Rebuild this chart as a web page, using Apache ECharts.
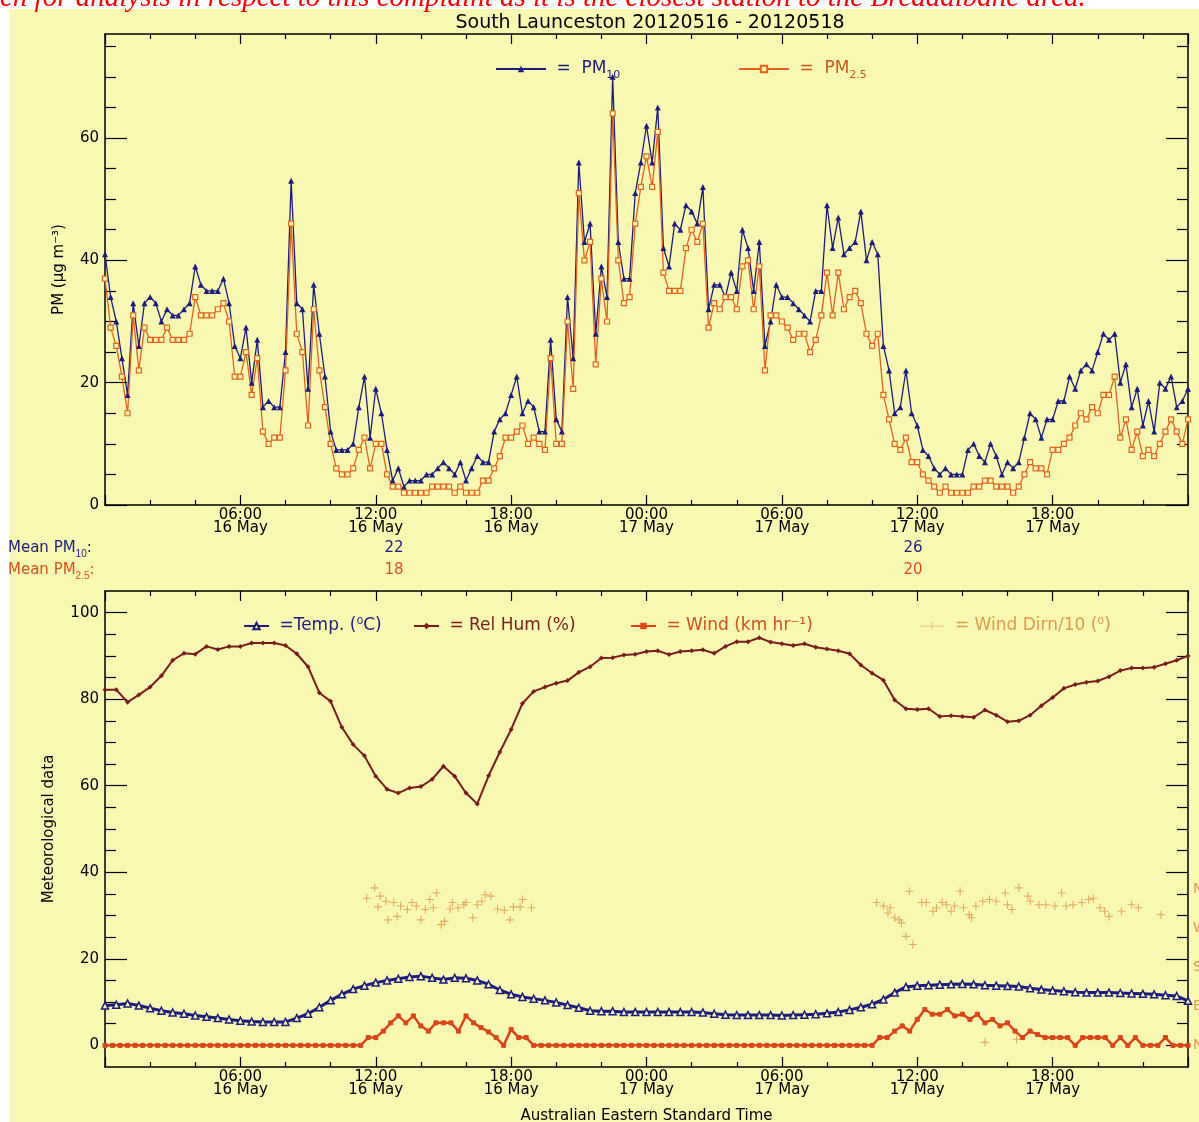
<!DOCTYPE html>
<html><head><meta charset="utf-8">
<script src="https://cdn.jsdelivr.net/npm/echarts@6/dist/echarts.min.js"></script>
<style>html,body{margin:0;padding:0;background:#fff;}#c{width:1199px;height:1122px;}</style>
</head><body><div id="c"></div>
<script>
// ---------- DATA (hours since 16 May 2012 00:00) ----------
const PM_STEP_H = 0.25;
const pm10 = [41,34,30,24,18,33,26,33,34,33,30,32,31,31,32,33,39,36,35,35,35,37,33,26,24,29,20,27,16,17,16,16,
25,53,33,32,19,36,28,21,12,9,9,9,10,16,21,11,19,15,9,4,6,3,4,4,4,5,5,6,7,6,5,7,4,6,8,7,7,12,14,15,18,21,15,17,16,12,12,27,
14,12,34,24,56,43,46,28,39,34,70,43,37,37,51,56,62,56,65,42,39,46,45,49,48,46,52,32,36,36,34,38,35,45,42,35,43,26,30,36,
34,34,33,32,31,30,35,35,49,42,47,41,42,43,48,40,43,41,26,22,15,16,22,15,13,9,8,6,5,6,5,5,5,9,10,8,7,10,8,5,7,6,7,11,
15,14,11,14,14,17,17,21,19,22,23,22,25,28,27,28,20,23,16,19,13,17,12,20,19,21,16,17,19];
const pm25 = [37,29,26,21,15,31,22,29,27,27,27,29,27,27,27,28,34,31,31,31,32,33,30,21,21,25,18,24,12,10,11,11,
22,46,28,25,13,32,22,16,10,6,5,5,6,9,11,6,10,10,5,3,3,2,2,2,2,2,3,3,3,3,2,3,2,2,2,4,4,6,8,11,11,12,13,10,11,10,9,24,
10,10,30,19,51,40,43,23,37,30,64,40,33,34,46,52,57,52,61,38,35,35,35,42,45,43,46,29,33,32,34,34,32,39,40,32,39,22,31,31,
30,29,27,28,28,25,27,31,38,31,38,32,34,35,33,28,26,28,18,14,10,9,11,7,7,5,4,3,2,3,2,2,2,2,3,3,4,4,3,3,3,2,3,5,
7,6,6,5,9,9,10,11,13,15,14,16,15,18,18,21,11,14,9,12,8,9,8,10,12,14,12,10,14];
const MET_STEP_H = 0.5;
const temperature = [9.2,9.4,9.7,9.2,8.6,8.0,7.6,7.3,6.9,6.6,6.3,6.0,5.7,5.5,5.4,5.4,5.4,6.3,7.3,8.8,
10.4,11.8,13.0,13.8,14.5,15.0,15.4,15.8,16.0,15.6,15.2,15.6,15.5,15.0,14.1,12.8,11.8,11.2,10.8,10.4,
9.9,9.3,8.7,8.0,7.9,7.9,7.7,7.7,7.7,7.7,7.7,7.7,7.7,7.6,7.3,7.1,7.0,7.0,7.0,7.0,
6.9,7.0,7.1,7.2,7.4,7.7,8.2,8.8,9.5,10.6,12.2,13.5,13.8,13.9,14.0,14.1,14.2,14.1,13.9,13.8,
13.7,13.6,13.2,12.9,12.7,12.5,12.3,12.2,12.2,12.2,12.1,12.0,11.9,11.8,11.6,11.4,10.3];
const relHumidity = [82.2,82.2,79.3,81.0,82.8,85.4,89.0,90.6,90.4,92.2,91.5,92.2,92.2,93.0,93.0,93.0,92.4,90.5,87.5,81.5,
79.5,73.5,69.5,66.9,62.2,59.2,58.3,59.5,59.8,61.5,64.5,62.2,58.3,55.8,62.3,67.8,73.0,79.0,81.8,82.8,
83.7,84.3,86.2,87.5,89.5,89.6,90.2,90.4,91.0,91.2,90.3,91.0,91.2,91.4,90.6,92.2,93.3,93.3,94.2,93.2,
92.8,92.4,92.8,92.0,91.6,91.2,90.5,87.9,86.0,84.4,79.8,77.8,77.6,77.8,76.0,76.2,76.0,75.8,77.5,76.3,
74.8,75.0,76.3,78.5,80.4,82.5,83.4,83.9,84.2,85.2,86.6,87.2,87.2,87.4,88.2,89.0,90.0];
const WIND_STEP_H = 1 / 3;
const windSpeed = [0,0,0,0,0,0,0,0,0,0,0,0,0,0,0,0,0,0,0,0,0,0,0,0,0,0,0,0,0,0,0,0,0,0,0,
1.8,1.8,3.3,5.2,6.8,5.2,6.8,4.5,3.3,5.2,5.2,5.2,3.3,6.8,5.2,4.1,3.1,1.8,0,3.7,1.8,1.8,
0,0,0,0,0,0,0,0,0,0,0,0,0,0,0,0,0,0,0,0,0,0,0,0,0,0,0,0,0,0,0,0,0,0,0,0,0,0,0,0,0,0,0,0,0,0,
1.8,1.8,3.3,4.5,3.3,6.0,8.3,7.2,7.2,8.3,6.8,7.2,6.0,7.2,5.2,6.0,4.5,5.2,3.3,1.8,3.3,2.5,1.8,1.8,1.8,1.8,
0,1.8,1.8,1.8,1.8,0,1.8,0,1.8,0,0,0,1.8,0,0,0];
const windDirHours = [11.6,11.95,12.1,12.2,12.45,12.55,12.8,12.95,13.1,13.4,13.6,13.8,14.0,14.2,14.4,14.55,14.7,14.9,15.05,15.3,
15.4,15.65,15.9,16.0,16.3,16.5,16.7,16.85,17.1,17.4,17.7,17.95,18.1,18.4,18.5,18.9,
34.2,34.5,34.7,34.8,35.0,35.2,35.3,35.5,35.65,35.8,36.2,36.4,36.7,36.85,37.1,37.3,37.5,37.65,37.9,38.05,
38.3,38.4,38.6,38.9,39.0,39.2,39.5,39.9,40.0,40.2,40.4,40.5,40.9,41.0,41.4,41.7,42.1,42.4,42.6,42.9,
43.3,43.6,43.8,44.1,44.3,44.5,45.05,45.5,45.8,46.8];
const windDirTenths = [34,36.4,32,34.5,33.3,29,33,29.8,32.2,31.4,33,32.2,29,31.4,33.7,31.8,35.2,27.9,28.7,31.5,
33,31.8,32.5,33,29.5,32.5,33.3,34.8,34.5,31.5,31.2,29,32,32,33.7,31.8,
33,32.2,30.6,31.8,29.5,29,28.3,25.2,35.6,23.3,33,33,31,31.8,33,32.5,31,32.2,35.6,31.8,
30.2,29.5,32.2,33.3,0.7,33.7,33.3,35.2,32.5,31.4,1.4,36.4,34.5,33.3,32.5,32.5,32.2,35.2,32.2,32.5,
33,33.7,34,31.8,31,29.8,31,32.5,31.8,30.2];
const xTickHours = [6,12,18,24,30,36,42];
const xTickLabels = ['06:00\n16 May','12:00\n16 May','18:00\n16 May','00:00\n17 May','06:00\n17 May','12:00\n17 May','18:00\n17 May'];
const pmMajorTicks = [0,20,40,60];
const pmMinorTicks = [5,10,15,25,30,35,45,50,55,65,70,75];
const metMajorTicks = [0,20,40,60,80,100];
const metMinorTicks = [5,10,15,25,30,35,45,50,55,65,70,75,85,90,95];
const compassValues = [0,9,18,27,36];
const compassLabels = ['N','E','S','W','N'];
const meanPM10 = ['22','26'];
const meanPM25 = ['18','20'];

// ---------- STYLE ----------
const BG = '#f8f8b2';
const FONT = 'DejaVu Sans';
const NAVY = '#1c1c7c';
const ORANGE = '#e2641c';
const MAROON = '#7a1c1c';
const WINDC = '#d8461a';
const WDIRC = '#e09a50';

const toXY = (arr, step) => arr.map((v, i) => [i * step, v]);

function xAxisDef(grid, pos, showLabel, name) {
  return {
    type: 'value', gridIndex: grid, position: pos, min: 0, max: 48, interval: 6,
    axisLine: {show: true, onZero: false, lineStyle: {color: '#000', width: 1.5}},
    axisTick: {show: true, inside: true, length: 10, lineStyle: {color: '#000', width: 1.2}},
    minorTick: {show: true, splitNumber: 3, length: 5, lineStyle: {color: '#000', width: 1.2}},
    splitLine: {show: false},
    axisLabel: {show: showLabel, showMinLabel: false, showMaxLabel: false, margin: 4,
      fontFamily: FONT, fontSize: 15, color: '#000', lineHeight: 13,
      formatter: v => { const i = xTickHours.indexOf(v); return i >= 0 ? xTickLabels[i] : ''; }},
    name: name || '', nameLocation: 'middle', nameGap: 42,
    nameTextStyle: {fontFamily: FONT, fontSize: 15, color: '#000'}
  };
}
function yAxisDef(grid, pos, min, max, major, showLine, ticks, tickLen, label, name, gap) {
  return {
    type: 'value', gridIndex: grid, position: pos, min: min, max: max,
    axisLine: {show: showLine, onZero: false, lineStyle: {color: '#000', width: 1.5}},
    axisTick: {show: true, inside: true, length: tickLen, customValues: ticks, lineStyle: {color: '#000', width: 1.2}},
    splitLine: {show: false},
    axisLabel: label || {show: false},
    name: name || '', nameLocation: 'middle', nameGap: gap || 0, nameRotate: 90,
    nameTextStyle: {fontFamily: FONT, fontSize: 15, color: '#000'}
  };
}
const leftLabel = vals => ({show: true, customValues: vals, margin: 6, fontFamily: FONT, fontSize: 15, color: '#000'});

const subRich = {sub: {fontSize: 11, lineHeight: 24, verticalAlign: 'bottom', fontFamily: FONT}};

function legendDef(name, left, top, w, color, text, icon) {
  return {
    show: true, left: left, top: top, orient: 'horizontal', selectedMode: false,
    itemWidth: w, itemHeight: 8,
    data: [icon ? {name: name, icon: icon} : {name: name}],
    textStyle: {fontFamily: FONT, fontSize: 17, color: color, lineHeight: 24, rich: subRich},
    formatter: () => text
  };
}

const chart = echarts.init(document.getElementById('c'), null, {renderer: 'canvas'});
chart.setOption({
  animation: false,
  backgroundColor: '#fff',
  title: {text: 'South Launceston 20120516 - 20120518', left: 645, top: 9, textAlign: 'center',
    textStyle: {fontFamily: FONT, fontSize: 19, fontWeight: 'normal', color: '#000'}},
  grid: [
    {left: 105, top: 34, width: 1083, height: 471, outerBoundsMode: 'none'},
    {left: 105, top: 591, width: 1083, height: 476, outerBoundsMode: 'none'}
  ],
  xAxis: [
    xAxisDef(0, 'bottom', true),
    xAxisDef(0, 'top', false),
    xAxisDef(1, 'bottom', true, 'Australian Eastern Standard Time'),
    xAxisDef(1, 'top', false)
  ],
  yAxis: [
    yAxisDef(0, 'left', 0, 77, true, true, pmMajorTicks, 22, leftLabel(pmMajorTicks), 'PM (\u00b5g m\u207b\u00b3)', 38),
    yAxisDef(0, 'left', 0, 77, false, false, pmMinorTicks, 11),
    yAxisDef(0, 'right', 0, 77, true, true, pmMajorTicks, 22),
    yAxisDef(0, 'right', 0, 77, false, false, pmMinorTicks, 11),
    yAxisDef(1, 'left', -5, 105, true, true, metMajorTicks, 22, leftLabel(metMajorTicks), 'Meteorological data', 48),
    yAxisDef(1, 'left', -5, 105, false, false, metMinorTicks, 11),
    yAxisDef(1, 'right', -5, 105, true, true, metMajorTicks, 22,
      {show: true, customValues: compassValues, margin: 5, fontFamily: FONT, fontSize: 14, color: WDIRC,
       formatter: v => compassLabels[compassValues.indexOf(v)]}),
    yAxisDef(1, 'right', -5, 105, false, false, metMinorTicks, 11)
  ],
  legend: [
    legendDef('PM10', 490, 52, 50, NAVY, ' =  PM{sub|10}'),
    legendDef('PM2.5', 733, 52, 50, '#c8581c', ' =  PM{sub|2.5}'),
    legendDef('Temp', 238, 609, 25, NAVY, ' =Temp. (\u2070C)'),
    legendDef('RelHum', 408, 609, 25, MAROON, ' = Rel Hum (%)'),
    legendDef('Wind', 625, 609, 25, '#d0501a', ' = Wind (km hr\u207b\u00b9)'),
    legendDef('WindDir', 915, 609, 25, WDIRC, ' = Wind Dirn/10 (\u2070)', 'path://M0,4.6h30v0.9h-30z M14.6,0h0.9v10h-0.9z')
  ],
  graphic: [
    {type: 'rect', z: -10, shape: {x: 10, y: 9, width: 1189, height: 1113}, style: {fill: BG}, silent: true},
    {type: 'text', z: 10, x: 0, y: 13, style: {text: 'ch for analysis in respect to this complaint as it is the closest station to the Breadalbane area.',
      fill: '#ff0000', font: 'italic 29px "Liberation Serif", "DejaVu Serif", serif', verticalAlign: 'bottom', align: 'left'}},
    {type: 'text', x: 8, y: 548, style: {text: 'Mean PM{sub|10}:', fill: NAVY, fontFamily: FONT, fontSize: 15, verticalAlign: 'middle',
      lineHeight: 22, rich: {sub: {fontSize: 10, lineHeight: 22, verticalAlign: 'bottom', fill: NAVY}}}},
    {type: 'text', x: 8, y: 570, style: {text: 'Mean PM{sub|2.5}:', fill: '#d8501c', fontFamily: FONT, fontSize: 15, verticalAlign: 'middle',
      lineHeight: 22, rich: {sub: {fontSize: 10, lineHeight: 22, verticalAlign: 'bottom', fill: '#d8501c'}}}},
    {type: 'text', x: 394, y: 548, style: {text: meanPM10[0], fill: NAVY, fontFamily: FONT, fontSize: 15, align: 'center', verticalAlign: 'middle'}},
    {type: 'text', x: 394, y: 570, style: {text: meanPM25[0], fill: '#d8501c', fontFamily: FONT, fontSize: 15, align: 'center', verticalAlign: 'middle'}},
    {type: 'text', x: 913, y: 548, style: {text: meanPM10[1], fill: NAVY, fontFamily: FONT, fontSize: 15, align: 'center', verticalAlign: 'middle'}},
    {type: 'text', x: 913, y: 570, style: {text: meanPM25[1], fill: '#d8501c', fontFamily: FONT, fontSize: 15, align: 'center', verticalAlign: 'middle'}}
  ],
  series: [
    {name: 'PM10', type: 'line', xAxisIndex: 0, yAxisIndex: 0, data: toXY(pm10, PM_STEP_H),
      symbol: 'triangle', symbolSize: 6, showAllSymbol: true,
      lineStyle: {color: NAVY, width: 1.3}, itemStyle: {color: NAVY}},
    {name: 'PM2.5', type: 'line', xAxisIndex: 0, yAxisIndex: 0, data: toXY(pm25, PM_STEP_H),
      symbol: 'rect', symbolSize: 5, showAllSymbol: true,
      lineStyle: {color: ORANGE, width: 1.3}, itemStyle: {color: BG, borderColor: ORANGE, borderWidth: 1.2}},
    {name: 'Temp', type: 'line', xAxisIndex: 2, yAxisIndex: 4, data: toXY(temperature, MET_STEP_H),
      symbol: 'triangle', symbolSize: 7, showAllSymbol: true,
      lineStyle: {color: NAVY, width: 3}, itemStyle: {color: BG, borderColor: NAVY, borderWidth: 1.5}},
    {name: 'RelHum', type: 'line', xAxisIndex: 2, yAxisIndex: 4, data: toXY(relHumidity, MET_STEP_H),
      symbol: 'diamond', symbolSize: 5, showAllSymbol: true,
      lineStyle: {color: MAROON, width: 2}, itemStyle: {color: MAROON}},
    {name: 'Wind', type: 'line', xAxisIndex: 2, yAxisIndex: 4, data: toXY(windSpeed, WIND_STEP_H),
      symbol: 'rect', symbolSize: 4, showAllSymbol: true,
      lineStyle: {color: WINDC, width: 2.5}, itemStyle: {color: WINDC, borderColor: WINDC}},
    {name: 'WindDir', type: 'scatter', xAxisIndex: 2, yAxisIndex: 4,
      data: windDirHours.map((t, i) => [t, windDirTenths[i]]),
      symbol: 'path://M4.3,0h1.4v10h-1.4z M0,4.3h10v1.4h-10z', symbolSize: 8,
      itemStyle: {color: WDIRC}}
  ]
});
</script></body></html>
